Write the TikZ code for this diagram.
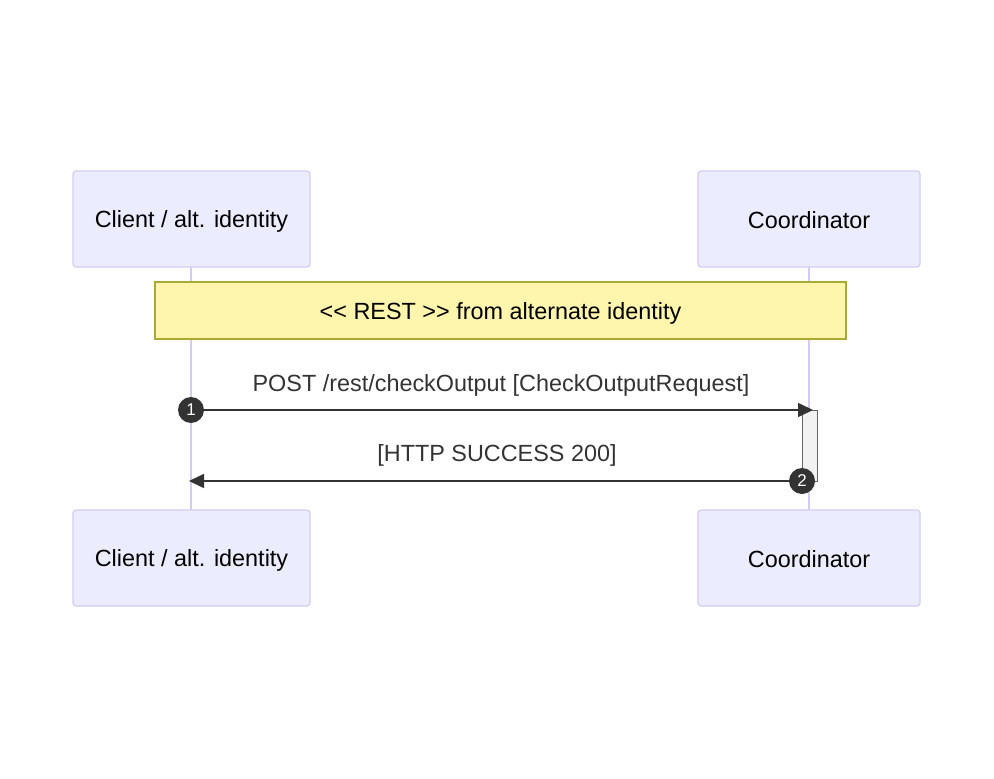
\documentclass[tikz,border=0pt]{standalone}
\usepackage{fontspec}
\setmainfont{Liberation Sans}
\usetikzlibrary{arrows.meta}
\definecolor{actfill}{HTML}{ECECFF}
\definecolor{actdraw}{HTML}{D3CCF2}
\definecolor{lifeline}{HTML}{D4CAF3}
\definecolor{notefill}{HTML}{FFF5AD}
\definecolor{notedraw}{HTML}{AAAA33}
\definecolor{msg}{HTML}{333333}
\tikzset{
  bigfont/.style={font=\fontsize{23.4}{28}\selectfont},
  actor/.style={draw=actdraw, fill=actfill, line width=1.2pt, rounded corners=3pt, bigfont, text=black},
  note/.style={draw=notedraw, fill=notefill, line width=1.2pt, bigfont, text=black},
  life/.style={draw=lifeline, line width=2.6pt},
  msgline/.style={draw=msg, line width=1.6pt, -{Triangle[length=15pt,width=14pt]}},
  msglabel/.style={bigfont, text=msg},
  seqnum/.style={circle, fill=msg, text=white, inner sep=0pt, minimum size=26pt, font=\fontsize{17}{20}\selectfont},
  actbox/.style={draw=black!60, fill=black!5, line width=1pt}
}
\begin{document}
\begin{tikzpicture}[x=1pt,y=-1pt]
\useasboundingbox (0,0) rectangle (994,779);
% lifelines
\coordinate (c1t) at (191,267);
\coordinate (c1b) at (191,510);
\coordinate (c2t) at (809,267);
\coordinate (c2b) at (809,510);
\draw[life] (c1t) -- (c1b);
\draw[life] (c2t) -- (c2b);
% actors
\node[actor, minimum width=237pt, minimum height=96pt] (clientTop) at (191.5,219) {};
\node[actor, minimum width=222pt, minimum height=96pt] (coordTop) at (809,219) {};
\node[actor, minimum width=237pt, minimum height=96pt] (clientBot) at (191.5,558) {};
\node[actor, minimum width=222pt, minimum height=96pt] (coordBot) at (809,558) {};
\node[bigfont] (clientTopT) at ([yshift=-2pt]clientTop.center) {Client / alt. identity};
\node[bigfont] (coordTopT) at ([yshift=-1pt]coordTop.center) {Coordinator};
\node[bigfont] (clientBotT) at ([yshift=-2pt]clientBot.center) {Client / alt. identity};
\node[bigfont] (coordBotT) at ([yshift=-1pt]coordBot.center) {Coordinator};
% note
\node[note, minimum width=691pt, minimum height=57pt] (note) at (500.5,310.5) {};
\node[bigfont] (noteT) at ([yshift=-3pt]note.center) {<{}< REST >{}> from alternate identity};
% activation
\node[actbox, minimum width=15pt, minimum height=71pt, inner sep=0pt, anchor=north west] (act) at (802,410) {};
% messages
\coordinate (m1s) at (191,410);
\coordinate (m1e) at (813,410);
\coordinate (m2s) at (802,481);
\coordinate (m2e) at (189,481);
\draw[msgline] (m1s) -- (m1e);
\draw[msgline] (m2s) -- (m2e);
\node[msglabel] (l1) at (501,385) {POST /rest/checkOutput [CheckOutputRequest]};
\node[msglabel] (l2) at (497,455) {[HTTP SUCCESS 200]};
\node[seqnum] (n1) at (m1s) {1};
\node[seqnum] (n2) at (m2s) {2};
\end{tikzpicture}
\end{document}
